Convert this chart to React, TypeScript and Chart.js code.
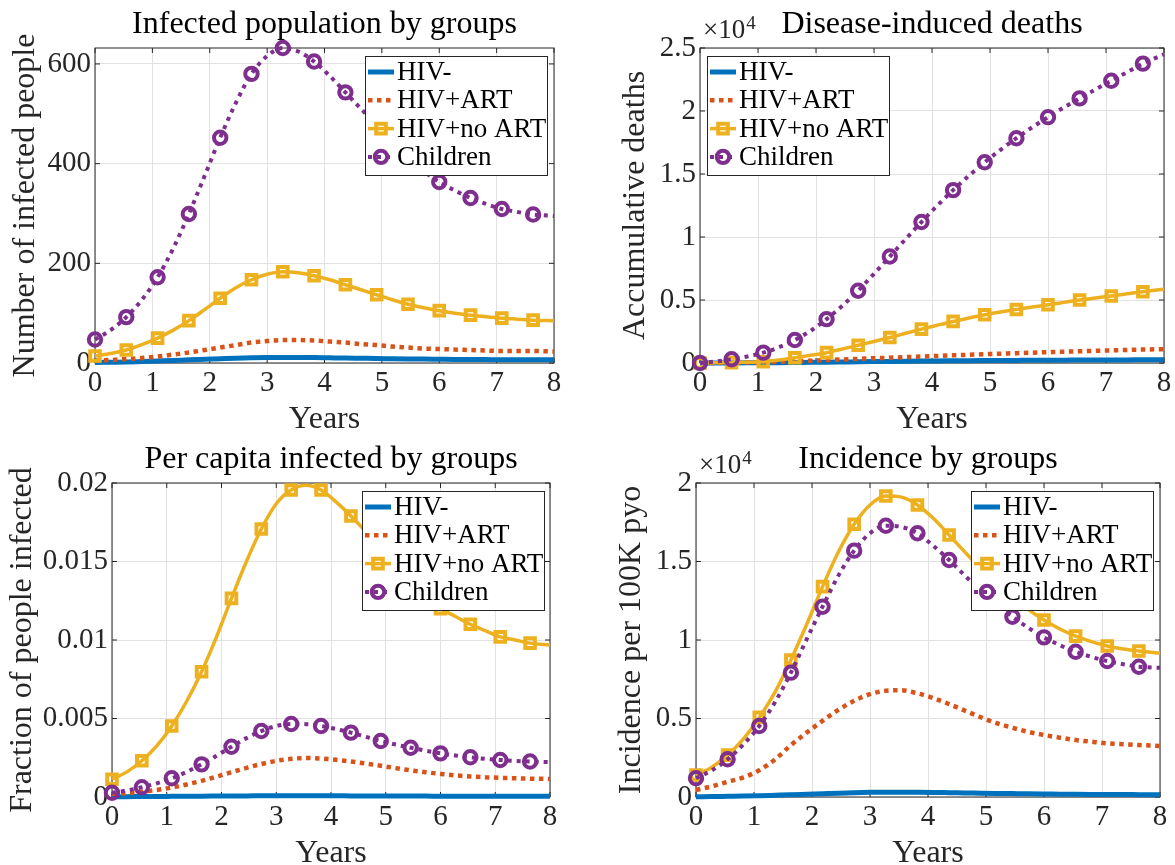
import React, { useEffect, useRef } from 'react';
import { Chart, registerables } from 'chart.js';

Chart.register(...registerables);

// ---------------- data ----------------
const YEARS = [0, 0.273, 0.545, 0.818, 1.091, 1.364, 1.636, 1.909, 2.182, 2.455, 2.727, 3.0, 3.273, 3.545, 3.818, 4.091, 4.364, 4.636, 4.909, 5.182, 5.455, 5.727, 6.0, 6.273, 6.545, 6.818, 7.091, 7.364, 7.636, 8.0];
const X_TICKS = [0, 1, 2, 3, 4, 5, 6, 7, 8];
const SERIES_NAMES = ['HIV-', 'HIV+ART', 'HIV+no ART', 'Children'];
const TITLES = ['Infected population by groups', 'Disease-induced deaths', 'Per capita infected by groups', 'Incidence by groups'];
const Y_LABELS = ['Number of infected people', 'Accumulative deaths', 'Fraction of people infected', 'Incidence per 100K pyo'];
const X_LABEL = 'Years';

// Infected population by groups
const INF_HIVNEG = [1, 1.5, 2, 3, 4, 5, 6.5, 7.5, 8.5, 9.5, 10.3, 10.8, 11, 11, 10.8, 10.4, 10, 9.5, 9, 8.6, 8.2, 7.8, 7.5, 7.2, 7, 6.8, 6.6, 6.5, 6.4, 6.3];
const INF_ART = [5, 6, 8, 10, 13, 17, 21, 26, 31, 36, 41, 44, 46, 46, 45, 43, 41, 38, 36, 33, 31, 29, 28, 27, 26, 25, 24, 24, 24, 23];
const INF_NOART = [14, 19, 26, 37, 50, 66, 85, 107, 130, 151, 167, 178, 183, 181, 175, 167, 157, 147, 137, 127, 118, 111, 105, 100, 96, 93, 90, 88, 86, 85];
const INF_CHILD = [47, 66, 92, 127, 172, 230, 299, 375, 452, 522, 580, 616, 632, 625, 605, 576, 543, 510, 478, 447, 418, 386, 363, 346, 331, 319, 309, 303, 298, 295];
const INF_Y_TICKS = [0, 200, 400, 600];
const INF_Y_LABELS = ['0', '200', '400', '600'];

// Disease-induced deaths (accumulative)
const DEATH_HIVNEG = [0, 2, 5, 10, 18, 28, 40, 52, 65, 80, 95, 110, 125, 138, 150, 162, 173, 183, 192, 200, 207, 214, 220, 226, 232, 238, 243, 248, 253, 260];
const DEATH_ART = [0, 10, 20, 40, 70, 100, 140, 180, 230, 280, 330, 380, 420, 470, 510, 560, 610, 650, 700, 740, 780, 820, 860, 900, 930, 970, 1000, 1040, 1070, 1100];
const DEATH_NOART = [0, 10, 30, 60, 100, 230, 420, 610, 820, 1110, 1410, 1710, 2020, 2360, 2690, 3000, 3300, 3570, 3830, 4050, 4250, 4440, 4620, 4810, 5000, 5160, 5320, 5490, 5660, 5850];
const DEATH_CHILD = [0, 120, 300, 520, 820, 1250, 1830, 2560, 3480, 4550, 5740, 7080, 8450, 9830, 11190, 12490, 13720, 14860, 15930, 16920, 17840, 18700, 19510, 20280, 21000, 21710, 22400, 23080, 23760, 24500];
const DEATH_Y_TICKS = [0, 5000, 10000, 15000, 20000, 25000];
const DEATH_Y_LABELS = ['0', '0.5', '1', '1.5', '2', '2.5'];

// Per capita infected by groups
const FRAC_HIVNEG = [0.00002, 0.00002, 0.00003, 0.00003, 0.00004, 0.00005, 0.00005, 0.00006, 0.00007, 0.00007, 0.00008, 0.00008, 0.00008, 0.00008, 0.00008, 0.00008, 0.00007, 0.00007, 0.00007, 0.00006, 0.00006, 0.00006, 0.00005, 0.00005, 0.00005, 0.00005, 0.00005, 0.00004, 0.00004, 0.00004];
const FRAC_ART = [0.0002, 0.00025, 0.00033, 0.00045, 0.0006, 0.0008, 0.00103, 0.0013, 0.00158, 0.00185, 0.0021, 0.0023, 0.00243, 0.00248, 0.00245, 0.00237, 0.00226, 0.00213, 0.00199, 0.00184, 0.0017, 0.00158, 0.00147, 0.00138, 0.00131, 0.00126, 0.00122, 0.00119, 0.00117, 0.00115];
const FRAC_NOART = [0.00113, 0.0016, 0.00231, 0.00325, 0.00452, 0.0061, 0.00798, 0.0102, 0.01265, 0.015, 0.01707, 0.01868, 0.01955, 0.01985, 0.01955, 0.0188, 0.0179, 0.0169, 0.0158, 0.0147, 0.0137, 0.0127, 0.012, 0.0115, 0.011, 0.0106, 0.0102, 0.01, 0.0098, 0.00968];
const FRAC_CHILD = [0.00027, 0.00042, 0.00062, 0.00087, 0.00119, 0.0016, 0.00208, 0.00263, 0.0032, 0.00375, 0.0042, 0.00452, 0.00465, 0.00464, 0.00452, 0.00433, 0.0041, 0.00383, 0.00357, 0.00334, 0.00314, 0.00295, 0.00278, 0.00264, 0.00253, 0.00243, 0.00236, 0.0023, 0.00226, 0.00222];
const FRAC_Y_TICKS = [0, 0.005, 0.01, 0.015, 0.02];
const FRAC_Y_LABELS = ['0', '0.005', '0.01', '0.015', '0.02'];

// Incidence by groups (per 100K pyo)
const INC_HIVNEG = [20, 30, 45, 60, 80, 110, 140, 175, 210, 245, 275, 295, 305, 305, 300, 290, 275, 260, 245, 230, 215, 200, 190, 180, 170, 165, 160, 155, 150, 147];
const INC_ART = [450, 680, 970, 1250, 1700, 2400, 3300, 4100, 4850, 5550, 6130, 6550, 6770, 6800, 6600, 6300, 5920, 5500, 5080, 4700, 4410, 4150, 3950, 3780, 3630, 3520, 3420, 3360, 3310, 3250];
const INC_NOART = [1400, 1900, 2670, 3700, 5070, 6700, 8730, 11000, 13400, 15600, 17370, 18600, 19170, 19100, 18600, 17750, 16690, 15600, 14550, 13600, 12750, 11950, 11270, 10700, 10250, 9900, 9620, 9430, 9300, 9150];
const INC_CHILD = [1190, 1700, 2400, 3350, 4520, 6050, 7920, 10050, 12120, 14100, 15690, 16800, 17280, 17200, 16800, 16000, 15100, 14100, 13150, 12270, 11480, 10780, 10170, 9670, 9250, 8920, 8660, 8460, 8300, 8230];
const INC_Y_TICKS = [0, 5000, 10000, 15000, 20000];
const INC_Y_LABELS = ['0', '0.5', '1', '1.5', '2'];

// ---------------- styling ----------------
const W = 1175;
const H = 865;
const FONT = '"Liberation Serif", "Times New Roman", serif';
const AXIS_COLOR = '#262626';
const GRID_COLOR = '#e2e2e2';
const TICK_SIZE = 29;
const LABEL_SIZE = 32;
const TITLE_SIZE = 32;
const LEGEND_SIZE = 27;
const YW = 80;
const XH = 50;

type Style = { color: string; width: number; dash: number[]; marker: string | null; r: number; mw: number };
const STYLES: Style[] = [
  { color: '#0072BD', width: 5, dash: [], marker: null, r: 0, mw: 0 },
  { color: '#D95319', width: 4.5, dash: [4.5, 4.5], marker: null, r: 0, mw: 0 },
  { color: '#EDB120', width: 3.5, dash: [], marker: 'rect', r: 6.8, mw: 4 },
  { color: '#7E2F8E', width: 4, dash: [4, 5], marker: 'circle', r: 6.2, mw: 4 },
];

const PANELS = [
  {
    series: [INF_HIVNEG, INF_ART, INF_NOART, INF_CHILD], yMax: 632, yTicks: INF_Y_TICKS, yTickLabels: INF_Y_LABELS,
    area: { l: 95, t: 48, r: 554, b: 363 }, legend: { x: 365, y: 56, w: 182, h: 119 }, yLabelX: 34, exp: false,
  },
  {
    series: [DEATH_HIVNEG, DEATH_ART, DEATH_NOART, DEATH_CHILD], yMax: 25000, yTicks: DEATH_Y_TICKS, yTickLabels: DEATH_Y_LABELS,
    area: { l: 700, t: 48, r: 1164, b: 363 }, legend: { x: 707, y: 56, w: 182, h: 119 }, yLabelX: 644, exp: true,
  },
  {
    series: [FRAC_HIVNEG, FRAC_ART, FRAC_NOART, FRAC_CHILD], yMax: 0.02, yTicks: FRAC_Y_TICKS, yTickLabels: FRAC_Y_LABELS,
    area: { l: 112, t: 483, r: 550, b: 797 }, legend: { x: 362, y: 491, w: 182, h: 119 }, yLabelX: 31, exp: false,
  },
  {
    series: [INC_HIVNEG, INC_ART, INC_NOART, INC_CHILD], yMax: 20000, yTicks: INC_Y_TICKS, yTickLabels: INC_Y_LABELS,
    area: { l: 696, t: 483, r: 1160, b: 797 }, legend: { x: 971, y: 491, w: 182, h: 119 }, yLabelX: 640, exp: true,
  },
];

function drawMarker(ctx: CanvasRenderingContext2D, kind: string, x: number, y: number, r: number) {
  ctx.beginPath();
  if (kind === 'rect') {
    const s = Math.SQRT1_2 * r;
    ctx.rect(x - s, y - s, 2 * s, 2 * s);
  } else {
    ctx.arc(x, y, r, 0, Math.PI * 2);
  }
  ctx.stroke();
}

const matlabAxes = {
  id: 'matlabAxes',
  beforeDatasetsDraw(chart: any) {
    const { ctx, chartArea: a } = chart;
    ctx.save();
    ctx.strokeStyle = AXIS_COLOR;
    ctx.lineWidth = 1;
    ctx.strokeRect(a.left, a.top, a.right - a.left, a.bottom - a.top);
    const tl = 5;
    ctx.beginPath();
    const xs = chart.scales.x;
    const ys = chart.scales.y;
    for (const t of xs.ticks) {
      const px = xs.getPixelForValue(t.value);
      ctx.moveTo(px, a.bottom); ctx.lineTo(px, a.bottom - tl);
      ctx.moveTo(px, a.top); ctx.lineTo(px, a.top + tl);
    }
    for (const t of ys.ticks) {
      const py = ys.getPixelForValue(t.value);
      ctx.moveTo(a.left, py); ctx.lineTo(a.left + tl, py);
      ctx.moveTo(a.right, py); ctx.lineTo(a.right - tl, py);
    }
    ctx.stroke();
    ctx.restore();
  },
  afterDraw(chart: any, _args: any, opts: any) {
    const { ctx, chartArea: a } = chart;
    const cx = (a.left + a.right) / 2;
    ctx.save();
    // title
    ctx.fillStyle = '#000';
    ctx.font = `${TITLE_SIZE}px ${FONT}`;
    ctx.textAlign = 'center';
    ctx.textBaseline = 'alphabetic';
    ctx.fillText(opts.title, cx, a.top - 15);
    // x label
    ctx.fillStyle = AXIS_COLOR;
    ctx.font = `${LABEL_SIZE}px ${FONT}`;
    ctx.fillText(X_LABEL, cx, a.bottom + 65);
    // y label
    ctx.save();
    ctx.translate(opts.yLabelX, (a.top + a.bottom) / 2);
    ctx.rotate(-Math.PI / 2);
    ctx.fillText(opts.yLabel, 0, 0);
    ctx.restore();
    // exponent
    if (opts.exp) {
      ctx.textAlign = 'left';
      ctx.font = `27px ${FONT}`;
      ctx.fillText('\u00d710', a.left + 3, a.top - 10);
      const w = ctx.measureText('\u00d710').width;
      ctx.font = `19px ${FONT}`;
      ctx.fillText('4', a.left + 4 + w, a.top - 19);
    }
    // legend
    const b = opts.legend;
    ctx.fillStyle = '#fff';
    ctx.fillRect(b.x, b.y, b.w, b.h);
    ctx.strokeStyle = AXIS_COLOR;
    ctx.lineWidth = 1;
    ctx.strokeRect(b.x + 0.5, b.y + 0.5, b.w, b.h);
    SERIES_NAMES.forEach((name, i) => {
      const s = STYLES[i];
      const y = b.y + 16 + i * 28.3;
      ctx.strokeStyle = s.color;
      ctx.lineWidth = s.width;
      ctx.lineCap = 'butt';
      ctx.setLineDash(s.dash);
      ctx.beginPath();
      ctx.moveTo(b.x + 3, y);
      ctx.lineTo(b.x + 29, y);
      ctx.stroke();
      ctx.setLineDash([]);
      if (s.marker) {
        ctx.lineWidth = s.mw;
        drawMarker(ctx, s.marker, b.x + 16, y, s.r);
      }
      ctx.fillStyle = '#000';
      ctx.font = `${LEGEND_SIZE}px ${FONT}`;
      ctx.textAlign = 'left';
      ctx.textBaseline = 'middle';
      ctx.fillText(name, b.x + 32, y + 1);
    });
    ctx.restore();
  },
};

function Panel({ idx }: { idx: number }) {
  const ref = useRef<HTMLCanvasElement | null>(null);
  useEffect(() => {
    const p = PANELS[idx];
    const canvas = ref.current;
    if (!canvas) return;
    const datasets = p.series.map((vals, i) => {
      const s = STYLES[i];
      return {
        label: SERIES_NAMES[i],
        data: YEARS.map((x, k) => ({ x, y: vals[k] })),
        borderColor: s.color,
        borderWidth: s.width,
        borderDash: s.dash,
        borderCapStyle: 'butt',
        backgroundColor: 'rgba(0,0,0,0)',
        fill: false,
        cubicInterpolationMode: 'monotone',
        order: 3 - i,
        clip: false,
        pointStyle: s.marker || 'circle',
        pointRadius: (c: any) => (s.marker && c.dataIndex % 2 === 0 && c.dataIndex <= 28 ? s.r : 0),
        pointHoverRadius: 0,
        pointBorderWidth: s.mw,
        pointBorderColor: s.color,
        pointBackgroundColor: 'rgba(0,0,0,0)',
      };
    });
    const chart = new Chart(canvas, {
      type: 'line',
      data: { datasets } as any,
      plugins: [matlabAxes as any],
      options: {
        responsive: false,
        animation: false,
        devicePixelRatio: 1,
        events: [],
        layout: {
          padding: { left: p.area.l - YW, top: p.area.t, right: W - p.area.r, bottom: H - p.area.b - XH },
        },
        plugins: {
          legend: { display: false },
          tooltip: { enabled: false },
          title: { display: false },
          matlabAxes: {
            title: TITLES[idx], yLabel: Y_LABELS[idx], yLabelX: p.yLabelX, exp: p.exp, legend: p.legend,
          },
        } as any,
        scales: {
          x: {
            type: 'linear', min: 0, max: 8,
            afterBuildTicks: (sc: any) => { sc.ticks = X_TICKS.map((v) => ({ value: v })); },
            afterFit: (sc: any) => { sc.height = XH; },
            ticks: {
              autoSkip: false, maxRotation: 0, padding: 3, color: AXIS_COLOR,
              font: { family: FONT, size: TICK_SIZE },
              callback: (v: any) => String(v),
            },
            grid: { color: GRID_COLOR, drawTicks: false, lineWidth: 1 },
            border: { display: false },
          },
          y: {
            type: 'linear', min: 0, max: p.yMax,
            afterBuildTicks: (sc: any) => { sc.ticks = p.yTicks.map((v) => ({ value: v })); },
            afterFit: (sc: any) => { sc.width = YW; },
            ticks: {
              autoSkip: false, padding: 4, color: AXIS_COLOR,
              font: { family: FONT, size: TICK_SIZE },
              callback: (_v: any, i: number) => p.yTickLabels[i],
            },
            grid: { color: GRID_COLOR, drawTicks: false, lineWidth: 1 },
            border: { display: false },
          },
        },
      } as any,
    });
    return () => chart.destroy();
  }, [idx]);
  return (
    <canvas
      ref={ref}
      width={W}
      height={H}
      style={{ position: 'absolute', left: 0, top: 0, width: W, height: H }}
    />
  );
}

export default function App() {
  return (
    <div style={{ position: 'absolute', left: 0, top: 0, width: W, height: H, background: '#fff', overflow: 'hidden' }}>
      {[0, 1, 2, 3].map((i) => (
        <Panel key={i} idx={i} />
      ))}
    </div>
  );
}
